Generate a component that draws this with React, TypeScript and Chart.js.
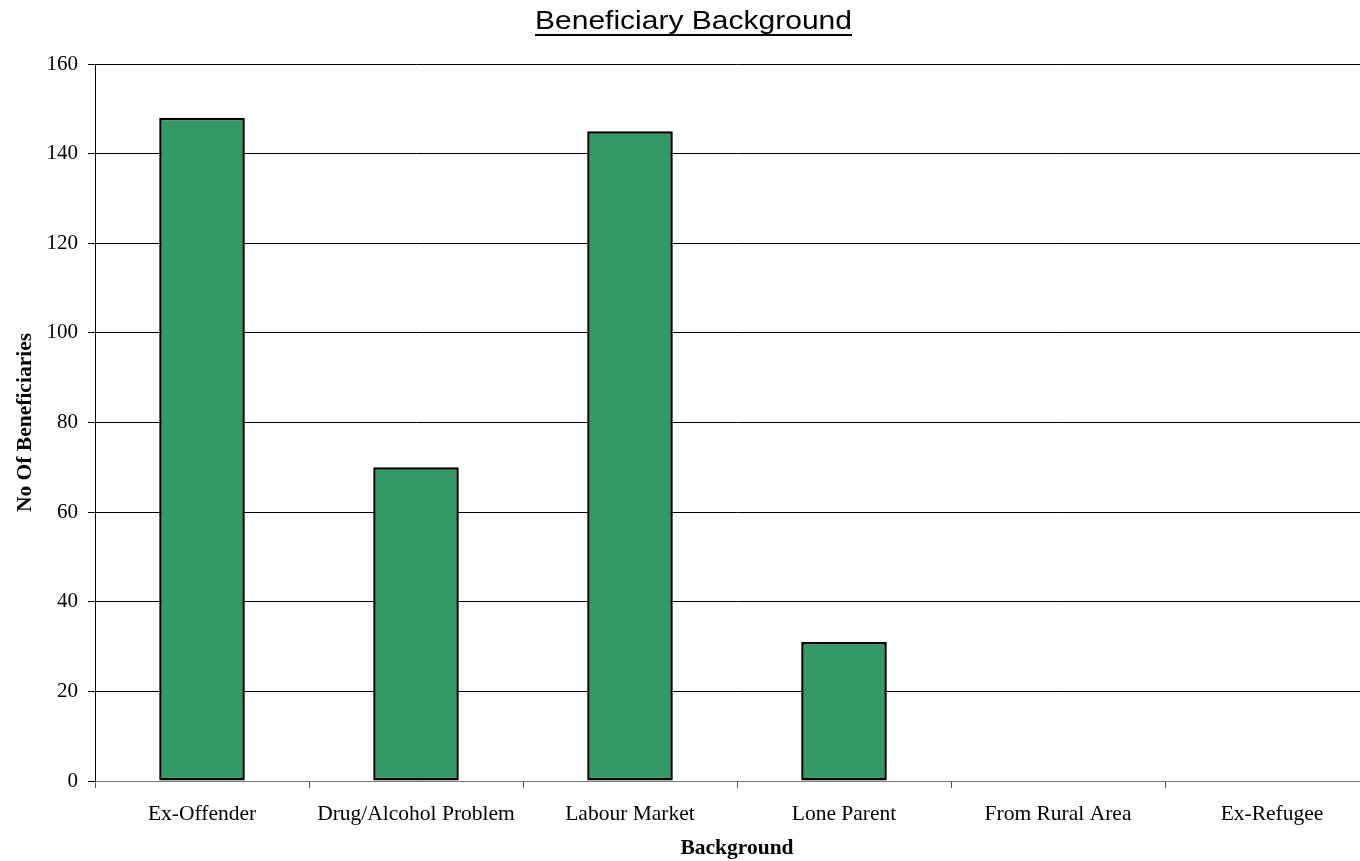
import React, { useEffect, useRef } from "react";
import { Chart, registerables } from "chart.js";

Chart.register(...registerables);

const chartTitle = "Beneficiary Background";
const categories = [
  "Ex-Offender",
  "Drug/Alcohol Problem",
  "Labour Market",
  "Lone Parent",
  "From Rural Area",
  "Ex-Refugee",
];
const beneficiaries = [148, 70, 145, 31, 0, 0];
const yTitle = "No Of Beneficiaries";
const xTitle = "Background";

const SERIF = '"Liberation Serif", "Times New Roman", serif';
const SANS = '"Liberation Sans", Arial, sans-serif';

const titlePlugin = {
  id: "underlinedTitle",
  afterDraw(chart: any) {
    const ctx = chart.ctx;
    ctx.save();
    ctx.font = `25.5px ${SANS}`;
    ctx.fillStyle = "#000";
    ctx.textAlign = "center";
    ctx.textBaseline = "alphabetic";
    const cx = 693.5;
    const by = 29;
    const w = ctx.measureText(chartTitle).width;
    const sx = 317 / w;
    ctx.translate(cx, by);
    ctx.scale(sx, 1);
    ctx.fillText(chartTitle, 0, 0);
    ctx.fillRect(-w / 2, 5, w, 2);
    ctx.restore();
  },
};

export default function App() {
  const ref = useRef<HTMLCanvasElement>(null);
  useEffect(() => {
    if (!ref.current) return;
    const chart = new Chart(ref.current, {
      type: "bar",
      data: {
        labels: categories,
        datasets: [
          {
            data: beneficiaries,
            backgroundColor: "#339966",
            borderColor: "#000000",
            borderWidth: 2.5,
            borderSkipped: false,
            barPercentage: 0.4,
            categoryPercentage: 1,
          },
        ],
      },
      options: {
        animation: false,
        responsive: false,
        layout: { padding: { top: 64, right: 1, left: 0, bottom: 0 } },
        plugins: {
          legend: { display: false },
          title: { display: false },
          tooltip: { enabled: false },
        },
        scales: {
          x: {
            afterFit(scale: any) {
              scale.height = 80;
            },
            grid: {
              offset: true,
              drawOnChartArea: false,
              drawTicks: true,
              tickLength: 7,
              color: "#555",
            },
            border: { display: true, color: "#777", width: 1 },
            ticks: {
              color: "#000",
              font: { family: SERIF, size: 21.5 },
              padding: 13,
              maxRotation: 0,
              autoSkip: false,
            },
            title: {
              display: true,
              text: xTitle,
              color: "#000",
              font: { family: SERIF, size: 21.5, weight: "bold" },
              padding: { top: 0, bottom: 0 },
            },
          },
          y: {
            min: 0,
            max: 160,
            afterFit(scale: any) {
              scale.width = 95;
            },
            grid: {
              color: "#000",
              lineWidth: 1,
              drawTicks: true,
              tickLength: 7,
            },
            border: { display: true, color: "#000", width: 1 },
            ticks: {
              stepSize: 20,
              color: "#000",
              font: { family: SERIF, size: 21 },
              padding: 10,
            },
            title: {
              display: true,
              text: yTitle,
              color: "#000",
              font: { family: SERIF, size: 21.5, weight: "bold" },
              padding: { top: 13, bottom: 0 },
            },
          },
        },
      },
      plugins: [titlePlugin],
    });
    return () => chart.destroy();
  }, []);
  return (
    <div
      style={{
        position: "fixed",
        left: 0,
        top: 0,
        width: 1360,
        height: 861,
        overflow: "hidden",
        background: "#fff",
      }}
    >
      <canvas ref={ref} width={1380} height={861} style={{ display: "block" }} />
    </div>
  );
}
